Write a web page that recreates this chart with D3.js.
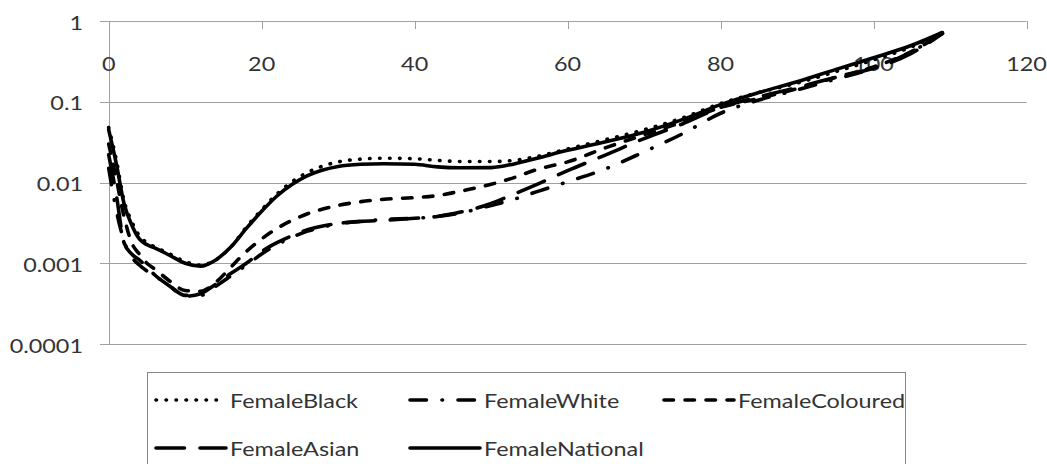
<!DOCTYPE html>
<html><head><meta charset="utf-8">
<script src="https://cdnjs.cloudflare.com/ajax/libs/d3/7.8.5/d3.min.js"></script>
<style>
html,body{margin:0;padding:0;background:#fff;}
svg{display:block;}
text{font-family:Lato,"Open Sans",sans-serif;font-size:19.5px;fill:#333;}
</style></head>
<body>
<svg id="c" width="1047" height="464"></svg>
<script>
// ---- data ----
const ages = [0,1,2,3,4,5,6,8,10,12,14,16,18,20,22,24,26,28,30,33,36,40,43,46,50,53,56,60,65,70,75,80,85,90,95,100,105,109];
const femaleBlack = [0.048,0.019,0.006,0.0033,0.0022,0.0018,0.0016,0.0013,0.00105,0.00095,0.0011,0.0016,0.0028,0.0046,0.0072,0.0103,0.0133,0.016,0.018,0.0195,0.02,0.0197,0.0188,0.0182,0.0182,0.0188,0.021,0.026,0.034,0.045,0.063,0.095,0.13,0.17,0.235,0.33,0.48,0.72];
const femaleWhite = [0.015,0.0045,0.0019,0.0012,0.00095,0.0008,0.0007,0.00052,0.0004,0.0004,0.00052,0.0007,0.00095,0.0013,0.0017,0.0021,0.0025,0.0028,0.0031,0.0033,0.0035,0.0036,0.0038,0.0042,0.0052,0.0062,0.0077,0.0102,0.0148,0.024,0.04,0.072,0.105,0.14,0.19,0.26,0.42,0.7];
const femaleColoured = [0.03,0.011,0.0038,0.0018,0.0013,0.001,0.00085,0.0006,0.00046,0.00045,0.00058,0.0009,0.0014,0.002,0.0027,0.0034,0.0041,0.0047,0.0052,0.0058,0.0062,0.0065,0.0069,0.0078,0.0095,0.0115,0.0145,0.018,0.027,0.039,0.056,0.085,0.11,0.145,0.2,0.27,0.42,0.7];
const femaleAsian = [0.022,0.007,0.0018,0.0013,0.0011,0.0009,0.00072,0.00052,0.00039,0.00042,0.00055,0.00075,0.001,0.0014,0.0018,0.0022,0.0026,0.0029,0.0031,0.0033,0.0034,0.0036,0.0038,0.0043,0.0055,0.0072,0.0095,0.014,0.022,0.035,0.053,0.085,0.115,0.15,0.2,0.26,0.4,0.7];
const femaleNational = [0.045,0.017,0.0055,0.003,0.002,0.0017,0.00155,0.00125,0.001,0.00092,0.0011,0.0016,0.0027,0.0044,0.0068,0.0095,0.0122,0.0143,0.0158,0.0168,0.0171,0.0168,0.0156,0.0152,0.0153,0.017,0.02,0.025,0.032,0.042,0.06,0.092,0.13,0.177,0.25,0.35,0.5,0.72];
const seriesNames = ["FemaleBlack","FemaleWhite","FemaleColoured","FemaleAsian","FemaleNational"];
const xTicks = [0,20,40,60,80,100,120];
const xTickLabels = ["0","20","40","60","80","100","120"];
const yTicks = [1,0.1,0.01,0.001,0.0001];
const yTickLabels = ["1","0.1","0.01","0.001","0.0001"];

const seriesValues = [femaleBlack,femaleWhite,femaleColoured,femaleAsian,femaleNational];
const dashes = ["0.5,9.5","16.5,15.5,0.5,15.5","9.5,11.5","28.5,15.5",null];

const svg = d3.select("#c");
const x = d3.scaleLinear().domain([0,120]).range([108.7,1026.5]);
const y = d3.scaleLog().domain([0.0001,1]).range([344,21]);
const KX = 1.2;
function txt(g, tx, ty, s, anchor){
  return g.append("text").attr("transform",`translate(${tx},${ty}) scale(${KX},1)`)
    .attr("text-anchor",anchor).text(s);
}

// gridlines + ticks
const grid = svg.append("g");
yTicks.forEach(t=>{
  grid.append("line").attr("x1",100).attr("x2",x(120)).attr("y1",Math.round(y(t))+0.5).attr("y2",Math.round(y(t))+0.5)
    .attr("stroke","#a0a0a0").attr("stroke-width",1);
});
grid.append("line").attr("x1",Math.round(x(0))+0.5).attr("x2",Math.round(x(0))+0.5).attr("y1",y(1)).attr("y2",y(0.0001))
  .attr("stroke","#a0a0a0");
xTicks.forEach(t=>{
  grid.append("line").attr("x1",Math.round(x(t))+0.5).attr("x2",Math.round(x(t))+0.5).attr("y1",y(1)).attr("y2",y(1)+8)
    .attr("stroke","#a0a0a0");
});
// labels
const lab = svg.append("g");
yTicks.forEach((t,i)=> txt(lab, 83, y(t)+8.5, yTickLabels[i], "end"));
xTicks.forEach((t,i)=> txt(lab, x(t), 71, xTickLabels[i], "middle"));

// lines
const line = d3.line().x(d=>x(d[0])).y(d=>y(d[1])).curve(d3.curveMonotoneX);
const lg = svg.append("g");
seriesValues.forEach((vals,i)=>{
  const pts = ages.map((a,j)=>[a,vals[j]]);
  lg.append("path").attr("d",line(pts)).attr("fill","none").attr("stroke","#000")
    .attr("stroke-width",3.6).attr("stroke-linecap","round").attr("stroke-linejoin","round")
    .attr("stroke-dasharray",dashes[i]);
});

// legend
const leg = svg.append("g");
leg.append("rect").attr("x",147.5).attr("y",372.5).attr("width",758).attr("height",120)
  .attr("fill","#fff").attr("stroke","#868686");
const colX = [156,410,664];
const rowY = [400,448];
seriesNames.forEach((n,i)=>{
  const cx = colX[i%3], cy = rowY[Math.floor(i/3)];
  leg.append("line").attr("x1",cx).attr("x2",cx+70).attr("y1",cy).attr("y2",cy)
    .attr("stroke","#000").attr("stroke-width",3.6).attr("stroke-linecap","round")
    .attr("stroke-dasharray",dashes[i]);
  txt(leg, cx+74, cy+7.5, n, "start");
});
</script>
</body></html>
